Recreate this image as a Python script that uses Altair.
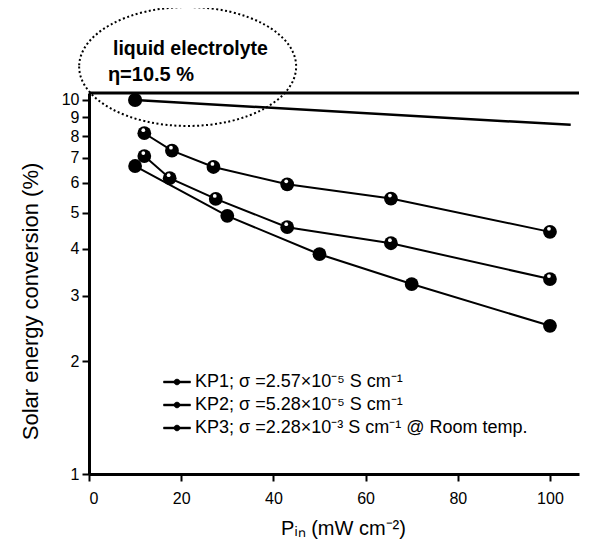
import altair as alt
import pandas as pd

# ---- data ----
series_names = [
    "KP1; σ =2.57×10⁻⁵ S cm⁻¹",
    "KP2; σ =5.28×10⁻⁵ S cm⁻¹",
    "KP3; σ =2.28×10⁻³ S cm⁻¹  @ Room temp.",
]
kp1_x = [12, 18, 27, 43, 65.5, 100]
kp1_y = [8.15, 7.32, 6.62, 5.95, 5.45, 4.44]
kp2_x = [12, 17.5, 27.5, 43, 65.5, 100]
kp2_y = [7.08, 6.18, 5.44, 4.57, 4.14, 3.32]
kp3_x = [10, 30, 50, 70, 100]
kp3_y = [6.66, 4.90, 3.87, 3.22, 2.49]
liquid_x = [10, 104.5]
liquid_y = [10.0, 8.58]
liquid_pt_x = [10]
liquid_pt_y = [10.0]

x_ticks = [0, 20, 40, 60, 80, 100]
y_ticks = [1, 2, 3, 4, 5, 6, 7, 8, 9, 10]

X_MAX = 106.3
Y_MAX = 10.44
FONT = "Liberation Sans"

rows = []
for name, xs, ys in zip(series_names, [kp1_x, kp2_x, kp3_x], [kp1_y, kp2_y, kp3_y]):
    for i, (a, b) in enumerate(zip(xs, ys)):
        rows.append({"series": name, "x": a, "y": b, "order": i})
df = pd.DataFrame(rows)
liq = pd.DataFrame({"x": liquid_x, "y": liquid_y})
liq_pt = pd.DataFrame({"x": liquid_pt_x, "y": liquid_pt_y})

xs = alt.Scale(domain=[0, X_MAX], nice=False, zero=False)
ys = alt.Scale(type="log", domain=[1, Y_MAX], nice=False)

x_enc = alt.X("x:Q", scale=xs, axis=alt.Axis(values=x_ticks, title="Pᵢₙ (mW cm⁻²)",
                                               titleX=254, titleY=54, titleBaseline="middle",
                                               titleFontSize=20, labelPadding=9))
y_enc = alt.Y("y:Q", scale=ys, axis=alt.Axis(values=y_ticks, format="d",
                                               title="Solar energy conversion (%)",
                                               titleX=-59, titleY=208, titleAngle=-90,
                                               titleAlign="center", titleBaseline="middle",
                                               titleFontSize=22, labelPadding=3))

# filled bar (the line) plus a filled dot in the middle, both clockwise
legend_path = ("M-1,-0.07H1V0.07H-1Z"
               "M-0.22,0A0.22,0.22 0 1,1 0.22,0A0.22,0.22 0 1,1 -0.22,0Z")
color_scale = alt.Scale(domain=series_names, range=["black", "black", "black"])

lines = alt.Chart(df).mark_line(strokeWidth=2, color="black").encode(
    x=x_enc, y=y_enc, detail="series:N", order="order:Q")

points = alt.Chart(df).mark_circle(size=190, opacity=1).encode(
    x=x_enc, y=y_enc,
    color=alt.Color("series:N", scale=color_scale, legend=alt.Legend(
        title=None, orient="none", legendX=74, legendY=275,
        symbolType=legend_path, symbolSize=729, symbolStrokeWidth=0.5,
        symbolFillColor="black", symbolStrokeColor="black", symbolOpacity=1,
        labelFont=FONT, labelFontSize=18, labelColor="black", labelOffset=4,
        labelLimit=500, rowPadding=0, padding=0,
    )))

highlight = alt.Chart(df).transform_filter(
    alt.FieldOneOfPredicate(field="series", oneOf=series_names[:2])
).mark_circle(size=14, color="white", opacity=1, yOffset=-3, xOffset=-1).encode(x=x_enc, y=y_enc)

liq_line = alt.Chart(liq).mark_line(strokeWidth=2.5, color="black").encode(x=x_enc, y=y_enc)
liq_point = alt.Chart(liq_pt).mark_circle(size=200, color="black", opacity=1).encode(x=x_enc, y=y_enc)

top_border = alt.Chart(liq_pt).mark_rule(strokeWidth=3, color="black").encode(
    x=alt.datum(0), x2=alt.datum(X_MAX), y=alt.datum(Y_MAX))

ellipse = alt.Chart(liq_pt).mark_point(
    shape="M-1,0A1,0.548 0 1,0 1,0A1,0.548 0 1,0 -1,0Z",
    size=47089, filled=False, stroke="black", strokeWidth=2, strokeDash=[2, 2.5],
    opacity=1, clip=False,
).encode(x=alt.datum(21.4), y=alt.datum(12.29))

txt1 = alt.Chart(liq_pt).mark_text(text="liquid electrolyte", font=FONT, fontSize=19.5,
                                    fontWeight="bold", align="left", baseline="middle",
                                    color="black").encode(x=alt.datum(5.2), y=alt.datum(13.73))
txt2 = alt.Chart(liq_pt).mark_text(text="η=10.5 %", font=FONT, fontSize=20,
                                    fontWeight="bold", align="left", baseline="middle",
                                    color="black").encode(x=alt.datum(4.1), y=alt.datum(11.66))

chart = alt.layer(
    lines, liq_line, points, highlight, liq_point, top_border, ellipse, txt1, txt2
).properties(
    width=490, height=381,
    autosize=alt.AutoSizeParams(type="none"),
    padding={"left": 81, "top": 85, "right": 2, "bottom": 70},
).configure_view(stroke=None).configure_axis(
    labelFont=FONT, labelFontSize=16, labelColor="black",
    titleFont=FONT, titleFontWeight="normal", titleColor="black",
    tickColor="black", tickWidth=2, tickSize=7,
    domainColor="black", domainWidth=3, grid=False,
)

chart.save("out.html", embed_options={"renderer": "svg", "actions": False})
